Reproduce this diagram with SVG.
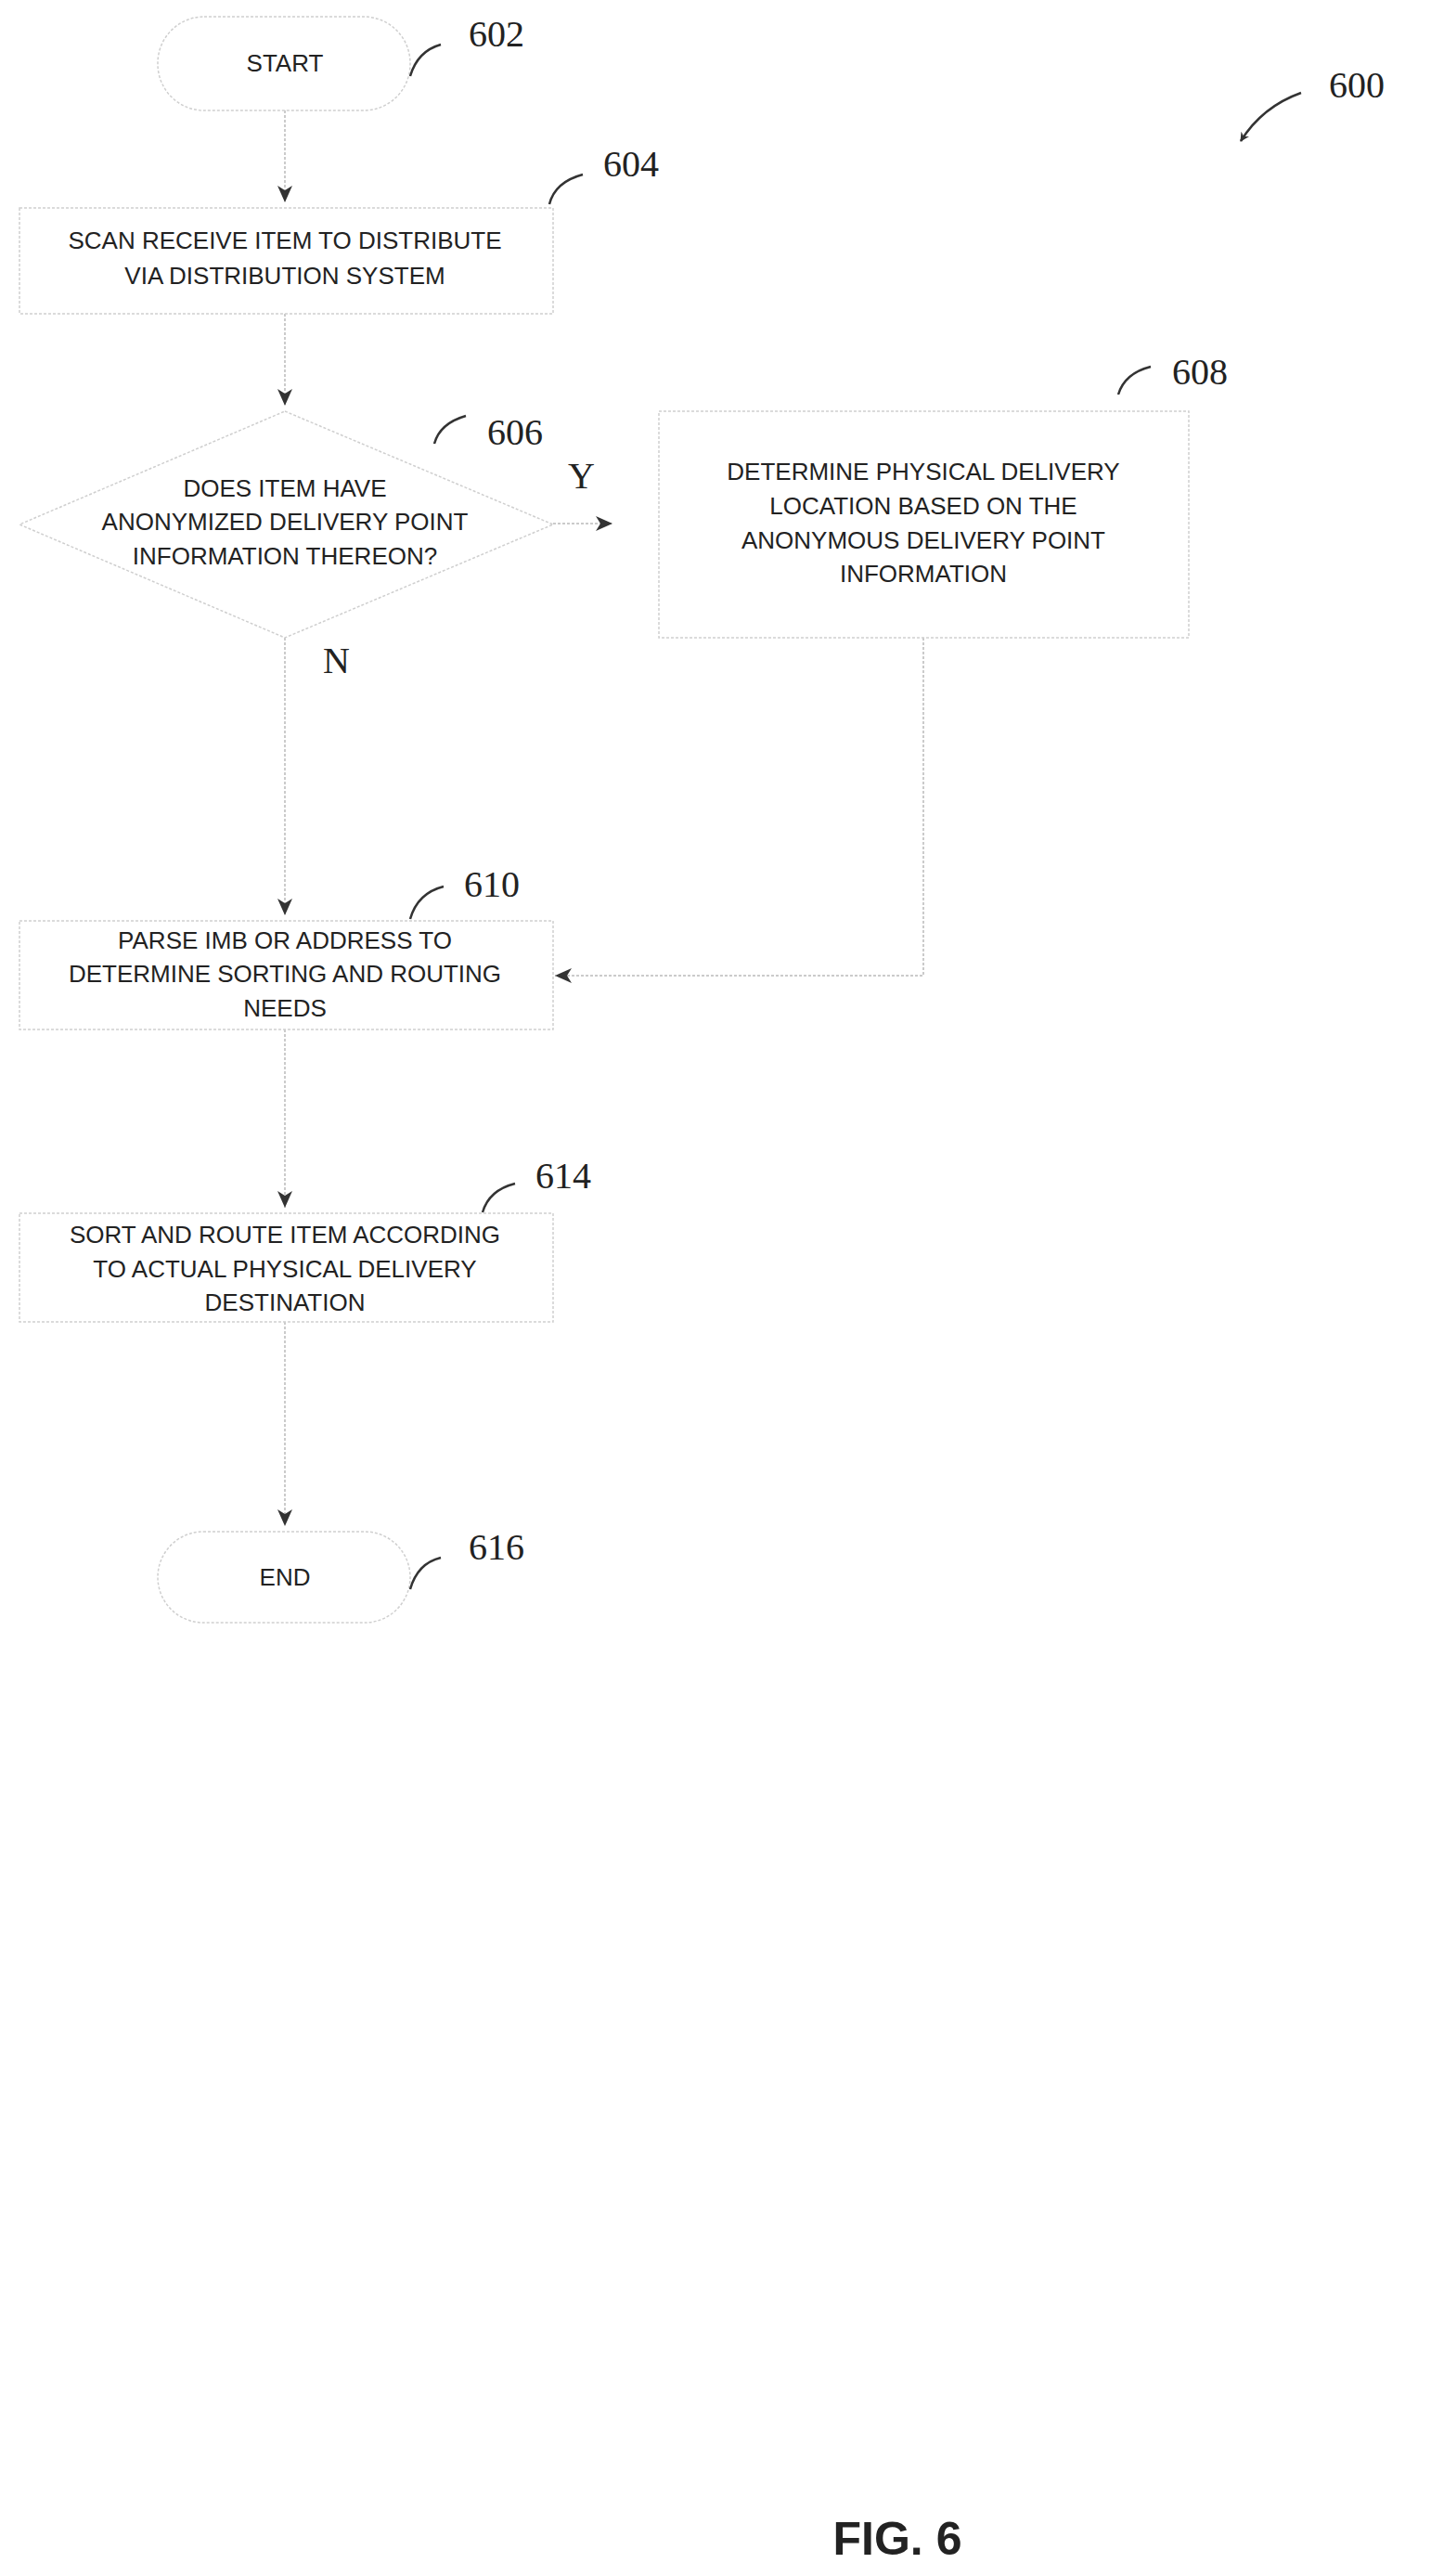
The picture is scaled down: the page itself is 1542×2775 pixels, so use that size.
<svg xmlns="http://www.w3.org/2000/svg" width="1542" height="2775" viewBox="0 0 1542 2775">
<style>
.b{fill:none;stroke:#cfcfcf;stroke-width:1.5;stroke-dasharray:3 2}
.t{font-family:"Liberation Sans",Arial,sans-serif;font-size:26px;fill:#222;text-anchor:middle}
.r{font-family:"Liberation Serif",serif;font-size:40px;fill:#222}
.c{fill:none;stroke:#333;stroke-width:2.5}
.l{fill:none;stroke:#bbb;stroke-width:1.5;stroke-dasharray:3 2}
</style>
<defs><marker id="a" markerWidth="10" markerHeight="10" refX="9" refY="5" orient="auto" markerUnits="userSpaceOnUse"><path d="M0,0 L10,5 L0,10 L3,5 z" fill="#333"/></marker>
<marker id="h" markerWidth="20" markerHeight="20" refX="18" refY="10" orient="auto" markerUnits="userSpaceOnUse"><path d="M0,2 L18,10 L0,18 L5,10 z" fill="#333"/></marker></defs>
<g id="connectors">
<path class="l" d="M307,119 V218" marker-end="url(#h)"/>
<path class="l" d="M307,338 V437" marker-end="url(#h)"/>
<path class="l" d="M596,564 H660" marker-end="url(#h)"/>
<path class="l" d="M307,687 V986" marker-end="url(#h)"/>
<path class="l" d="M995,687 V1051 H598" marker-end="url(#h)"/>
<path class="l" d="M307,1109 V1301" marker-end="url(#h)"/>
<path class="l" d="M307,1424 V1644" marker-end="url(#h)"/>
<text class="r" x="612" y="526">Y</text>
<text class="r" x="348" y="725">N</text>
</g>
<g id="n602"><rect class="b" x="170" y="18" width="272" height="101" rx="50"/><text class="t" x="307" y="77">START</text>
<path class="c" d="M442,82 Q450,55 475,48"/><text class="r" x="505" y="50">602</text></g>
<g id="n604"><rect class="b" x="21" y="224" width="575" height="114"/><text class="t" x="307" y="268">SCAN RECEIVE ITEM TO DISTRIBUTE</text><text class="t" x="307" y="306">VIA DISTRIBUTION SYSTEM</text>
<path class="c" d="M592,220 Q598,196 628,188"/><text class="r" x="650" y="190">604</text></g>
<g id="n606"><polygon class="b" points="307,443 596,565 307,687 21,565"/><text class="t" x="307" y="535">DOES ITEM HAVE</text><text class="t" x="307" y="571">ANONYMIZED DELIVERY POINT</text><text class="t" x="307" y="608">INFORMATION THEREON?</text>
<path class="c" d="M468,478 Q474,456 502,448"/><text class="r" x="525" y="479">606</text></g>
<g id="n608"><rect class="b" x="710" y="443" width="571" height="244"/><text class="t" x="995" y="517">DETERMINE PHYSICAL DELIVERY</text><text class="t" x="995" y="554">LOCATION BASED ON THE</text><text class="t" x="995" y="591">ANONYMOUS DELIVERY POINT</text><text class="t" x="995" y="627">INFORMATION</text>
<path class="c" d="M1205,425 Q1212,402 1240,395"/><text class="r" x="1263" y="414">608</text></g>
<g id="n610"><rect class="b" x="21" y="992" width="575" height="117"/><text class="t" x="307" y="1022">PARSE IMB OR ADDRESS TO</text><text class="t" x="307" y="1058">DETERMINE SORTING AND ROUTING</text><text class="t" x="307" y="1095">NEEDS</text>
<path class="c" d="M442,990 Q450,962 478,955"/><text class="r" x="500" y="966">610</text></g>
<g id="n614"><rect class="b" x="21" y="1307" width="575" height="117"/><text class="t" x="307" y="1339">SORT AND ROUTE ITEM ACCORDING</text><text class="t" x="307" y="1376">TO ACTUAL PHYSICAL DELIVERY</text><text class="t" x="307" y="1412">DESTINATION</text>
<path class="c" d="M520,1306 Q527,1282 555,1275"/><text class="r" x="577" y="1280">614</text></g>
<g id="n616"><rect class="b" x="170" y="1650" width="272" height="98" rx="49"/><text class="t" x="307" y="1708">END</text>
<path class="c" d="M442,1712 Q450,1684 475,1678"/><text class="r" x="505" y="1680">616</text></g>
<g id="fig600"><text class="r" x="1432" y="105">600</text><path class="c" d="M1402,100 Q1360,115 1337,152" marker-end="url(#a)"/></g>
<text x="967" y="2752" font-family="Liberation Sans,Arial,sans-serif" font-size="50" font-weight="bold" fill="#222" text-anchor="middle">FIG. 6</text>
</svg>
